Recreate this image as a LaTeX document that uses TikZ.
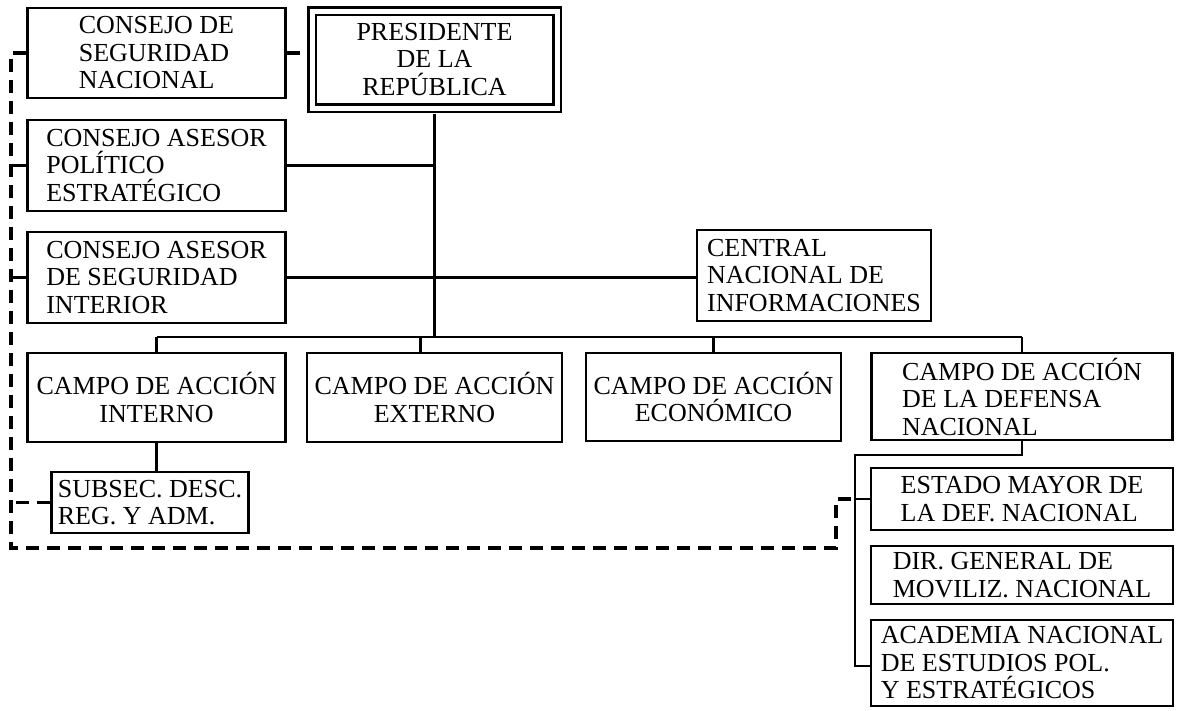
\documentclass[tikz,border=0pt]{standalone}
\usepackage{fontspec}
\setmainfont{Liberation Serif}
\usetikzlibrary{positioning}

\begin{document}
\begin{tikzpicture}
  [x=1pt,y=-1pt,line width=2.4pt,
   every node/.style={draw,inner sep=0pt,align=left,font=\fontsize{26}{27.5}\selectfont},
   caja/.style 2 args={minimum width=#1,minimum height=#2},
   discont/.style={line width=3.2pt,dash pattern=on 13pt off 8pt}]
  \useasboundingbox (0,0) rectangle (1181,710);

  \node[caja={258pt}{90pt}] (csn) at (156.5,53) {CONSEJO DE\\SEGURIDAD\\NACIONAL};
  \node[caja={245pt}{97pt},align=center,double,double distance=5pt] (pres) at (434.5,59.5) {PRESIDENTE\\DE LA\\REPÚBLICA};
  \node[caja={258pt}{91pt}] (cap) at (156.5,165.5) {CONSEJO ASESOR\\POLÍTICO\\ESTRATÉGICO};
  \node[caja={258pt}{91pt}] (casi) at (156.5,277.5) {CONSEJO ASESOR\\DE SEGURIDAD\\INTERIOR};
  \node[caja={234pt}{91pt}] (cni) at (814,275.5) {CENTRAL\\NACIONAL DE\\INFORMACIONES};

  \node[caja={258pt}{89pt},align=center] (cai) at (156.5,397.5) {CAMPO DE ACCIÓN\\INTERNO};
  \node[caja={255pt}{89pt},align=center] (cae) at (434.5,397.5) {CAMPO DE ACCIÓN\\EXTERNO};
  \node[caja={255pt}{88pt},align=center] (cac) at (713.5,397) {CAMPO DE ACCIÓN\\ECONÓMICO};
  \node[caja={301pt}{87pt}] (cad) at (1022,396.5) {CAMPO DE ACCIÓN\\DE LA DEFENSA\\NACIONAL};

  \node[caja={197pt}{61pt}] (subsec) at (150,502.5) {SUBSEC. DESC.\\REG. Y ADM.};
  \node[caja={302pt}{62pt}] (emdn) at (1022,499) {ESTADO MAYOR DE\\LA DEF. NACIONAL};
  \node[caja={302pt}{58pt}] (dgmn) at (1022,575) {DIR. GENERAL DE\\MOVILIZ. NACIONAL};
  \node[caja={302pt}{86pt}] (anepe) at (1022,663) {ACADEMIA NACIONAL\\DE ESTUDIOS POL.\\Y ESTRATÉGICOS};

  \coordinate (pb) at ([yshift=-5pt]pres.south);
  \coordinate (pw) at ([xshift=-5pt]pres.west);
  \coordinate (bus) at (0,337);
  \coordinate (eje) at (855,455);
  \coordinate (izq) at (11,548);
  \coordinate (esq) at (836,548);

  % mando directo
  \draw (pb) -- (pb |- bus);
  \draw (cai.north |- bus) -- (cad.north |- bus);
  \foreach \n in {cai,cac,cad}
    \draw (\n.north) -- (\n.north |- bus);
  \draw ([xshift=-14pt]cae.north) -- ([xshift=-14pt]cae.north |- bus);
  \draw (cap.east) -- (cap.east -| pb);
  \draw (casi.east) -- (cni.west |- casi.east);
  \draw (cai.south) -- (cai.south |- subsec.north);
  \draw (cad.south) |- (eje) -- ([yshift=-3pt]anepe.west -| eje) -- ([yshift=-3pt]anepe.west);
  \draw (eje |- emdn.west) -- (emdn.west);

  % coordinacion
  \draw[discont] (csn.east) -- (csn.east -| pw);
  \draw[discont] (csn.west) -| (izq) -- (esq) |- (eje |- emdn.west);
  \foreach \n in {cap,casi,subsec}
    \draw[discont] (\n.west) -- (\n.west -| izq);
\end{tikzpicture}
\end{document}
